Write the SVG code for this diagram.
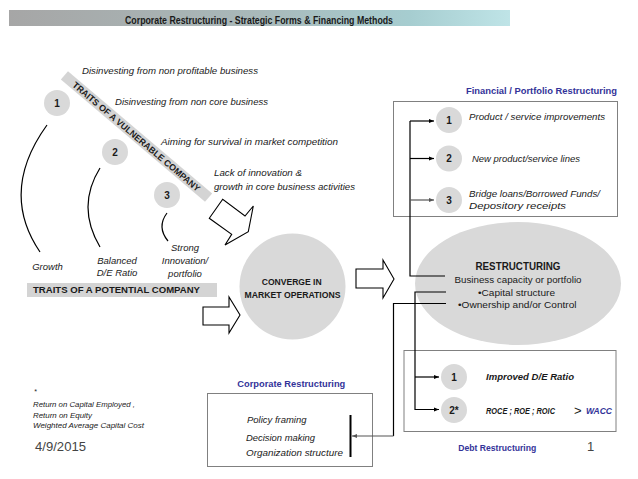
<svg xmlns="http://www.w3.org/2000/svg" width="638" height="479" viewBox="0 0 638 479">
<defs>
<linearGradient id="tg" x1="0" y1="0" x2="1" y2="0">
<stop offset="0" stop-color="#a6a6a6"/>
<stop offset="0.5" stop-color="#a9b9ba"/>
<stop offset="0.8" stop-color="#a6cdd0"/>
<stop offset="1" stop-color="#bfe4e7"/>
</linearGradient>
<marker id="ah" viewBox="0 0 10 10" refX="10" refY="5" markerWidth="5" markerHeight="5" orient="auto" markerUnits="userSpaceOnUse">
<path d="M0,1 L10,5 L0,9 z" fill="#000"/>
</marker>
<marker id="ahg" viewBox="0 0 10 10" refX="10" refY="5" markerWidth="5" markerHeight="5" orient="auto" markerUnits="userSpaceOnUse">
<path d="M0,1 L10,5 L0,9 z" fill="#555"/>
</marker>
</defs>
<style>
text{font-family:"Liberation Sans",Arial,sans-serif;fill:#1a1a1a}
.it{font-style:italic;font-size:9.5px}
.b{font-weight:bold}
.bl{fill:#333399;font-weight:bold;font-size:9.5px}
.num{font-weight:bold;font-size:10px;text-anchor:middle}
.circ{fill:#d9d9d9}
.box{fill:none;stroke:#808080;stroke-width:1}
.ln{fill:none;stroke:#000;stroke-width:1.2}
.hol{fill:#fff;stroke:#000;stroke-width:1.1;stroke-linejoin:miter}
.fn{font-style:italic;font-size:7px}
.mid{text-anchor:middle}
</style>
<rect width="638" height="479" fill="#fff"/>

<g id="title">
<rect x="9" y="10" width="501" height="16" fill="url(#tg)"/>
<text x="125" y="23.5" class="b" font-size="10.5" textLength="268" lengthAdjust="spacingAndGlyphs">Corporate Restructuring  - Strategic Forms &amp; Financing Methods</text>
</g>

<g id="vulnerable-banner" transform="translate(136.5,136.5) rotate(40.3)">
<rect x="-94.5" y="-5.5" width="189" height="11" fill="#d4d4d4"/>
<text x="0" y="3.3" class="b mid" font-size="9" textLength="164" lengthAdjust="spacingAndGlyphs">TRAITS OF A VULNERABLE COMPANY</text>
</g>

<g id="vulnerable-traits">
<text x="82" y="74" class="it" textLength="176" lengthAdjust="spacingAndGlyphs">Disinvesting from non profitable business</text>
<text x="115" y="105" class="it" textLength="153" lengthAdjust="spacingAndGlyphs">Disinvesting from non core business</text>
<text x="161" y="145" class="it" textLength="177" lengthAdjust="spacingAndGlyphs">Aiming for survival in market competition</text>
<text x="214" y="176" class="it" textLength="88" lengthAdjust="spacingAndGlyphs">Lack of innovation &amp;</text>
<text x="214" y="189.5" class="it" textLength="141" lengthAdjust="spacingAndGlyphs">growth in core business activities</text>
</g>

<g id="left-1"><circle cx="57" cy="103" r="13" class="circ"/><text x="57" y="106.5" class="num">1</text></g>
<g id="left-2"><circle cx="115" cy="152" r="13" class="circ"/><text x="115" y="155.5" class="num">2</text></g>
<g id="left-3"><circle cx="167" cy="195" r="13" class="circ"/><text x="167" y="198.5" class="num">3</text></g>

<g id="potential-traits">
<text x="47.5" y="270" class="it mid">Growth</text>
<text x="117" y="263.5" class="it mid">Balanced</text>
<text x="117" y="276" class="it mid">D/E Ratio</text>
<text x="185" y="251" class="it mid">Strong</text>
<text x="185" y="264" class="it mid">Innovation/</text>
<text x="185" y="276.5" class="it mid">portfolio</text>
</g>

<g id="potential-bar">
<rect x="27" y="283" width="190" height="14" fill="#d4d4d4"/>
<text x="116.5" y="293.2" class="b mid" font-size="9" textLength="167" lengthAdjust="spacingAndGlyphs">TRAITS OF A POTENTIAL  COMPANY</text>
</g>

<g id="converge">
<circle cx="292.5" cy="286.5" r="53" fill="#d9d9d9"/>
<text x="291.7" y="284.5" class="b mid" font-size="9" textLength="60" lengthAdjust="spacingAndGlyphs">CONVERGE IN</text>
<text x="292.5" y="297.5" class="b mid" font-size="9" textLength="96" lengthAdjust="spacingAndGlyphs">MARKET OPERATIONS</text>
</g>

<g id="restructuring">
<ellipse cx="518" cy="283.5" rx="103" ry="61.5" fill="#d9d9d9"/>
<text x="518" y="270" class="b mid" font-size="10" textLength="85" lengthAdjust="spacingAndGlyphs">RESTRUCTURING</text>
<text x="518" y="283" class="mid" font-size="9" textLength="127" lengthAdjust="spacingAndGlyphs">Business capacity or portfolio</text>
<text x="516.5" y="295.5" class="mid" font-size="9" textLength="77" lengthAdjust="spacingAndGlyphs">•Capital structure</text>
<text x="517.3" y="307.5" class="mid" font-size="9" textLength="118.5" lengthAdjust="spacingAndGlyphs">•Ownership and/or Control</text>
</g>

<g id="financial-box">
<text x="466" y="94" class="bl" textLength="151" lengthAdjust="spacingAndGlyphs">Financial / Portfolio  Restructuring</text>
<rect x="393.5" y="101.5" width="224" height="115" class="box"/>
</g>
<g id="fin-1"><circle cx="449" cy="120" r="13" class="circ"/><text x="449" y="123.5" class="num">1</text>
<text x="469" y="120" class="it" textLength="136" lengthAdjust="spacingAndGlyphs">Product / service improvements</text></g>
<g id="fin-2"><circle cx="449" cy="158.5" r="13" class="circ"/><text x="449" y="162" class="num">2</text>
<text x="472" y="161.5" class="it" textLength="108" lengthAdjust="spacingAndGlyphs">New product/service  lines</text></g>
<g id="fin-3"><circle cx="449" cy="200" r="13" class="circ"/><text x="449" y="203.5" class="num">3</text>
<text x="469" y="197" class="it" textLength="131" lengthAdjust="spacingAndGlyphs">Bridge loans/Borrowed Funds/</text>
<text x="469" y="209" class="it" font-size="9" textLength="97" lengthAdjust="spacingAndGlyphs">Depository receipts</text></g>

<g id="debt-box">
<rect x="404" y="350.5" width="212" height="81" class="box"/>
<text x="458.3" y="450.5" class="bl" textLength="78" lengthAdjust="spacingAndGlyphs">Debt Restructuring</text>
</g>
<g id="debt-1"><circle cx="454" cy="377" r="13" class="circ"/><text x="454" y="380.5" class="num">1</text>
<text x="486" y="380" class="it b" textLength="88" lengthAdjust="spacingAndGlyphs">Improved  D/E Ratio</text></g>
<g id="debt-2"><circle cx="454" cy="410" r="13" class="circ"/><text x="454" y="413.5" class="num">2*</text>
<text x="486" y="413.5" class="it b" font-size="7.5" textLength="69" lengthAdjust="spacingAndGlyphs">ROCE ; ROE ; ROIC</text>
<text x="574" y="414.5" font-size="13">&gt;</text>
<text x="586" y="413.5" class="it b" style="fill:#333399" font-size="8" textLength="26" lengthAdjust="spacingAndGlyphs">WACC</text></g>

<g id="corporate-box">
<text x="237.3" y="387" class="bl" textLength="108" lengthAdjust="spacingAndGlyphs">Corporate  Restructuring</text>
<rect x="207.5" y="393.5" width="165" height="73" class="box"/>
<text x="247" y="423" class="it" textLength="59.5" lengthAdjust="spacingAndGlyphs">Policy framing</text>
<text x="246" y="440.5" class="it" textLength="69" lengthAdjust="spacingAndGlyphs">Decision making</text>
<text x="246" y="456" class="it" textLength="97" lengthAdjust="spacingAndGlyphs">Organization structure</text>
<line x1="350.5" y1="415" x2="350.5" y2="457" stroke="#000" stroke-width="2"/>
</g>

<g id="connectors">
<path d="M209.3,218.3 L222.7,199.3 L245,216 L253.3,206 L248.3,231.7 L225,245 L231.7,234.3 Z" class="hol"/>
<path d="M203,307 L229,307 L229,297 L240,315 L229,333 L229,325 L203,325 Z" class="hol"/>
<path d="M356,269 L383,269 L383,260 L394,279 L383,298 L383,288 L356,288 Z" class="hol"/>
<path d="M47,125 Q-1,191.5 40,252" class="ln"/>
<path d="M100,168 Q76,206.5 100,247" class="ln"/>
<path d="M167,213 Q156.5,227 168,241" class="ln"/>
<path d="M445,276 L410,276 L410,121" class="ln"/>
<line x1="410" y1="121" x2="434" y2="121" class="ln" marker-end="url(#ah)"/>
<line x1="410" y1="158.5" x2="434" y2="158.5" class="ln" marker-end="url(#ah)"/>
<line x1="410" y1="200" x2="434" y2="200" stroke="#555" stroke-width="1.2" marker-end="url(#ahg)"/>
<path d="M446,292 L415,292 L415,409.5 L439,409.5" class="ln" marker-end="url(#ah)"/>
<line x1="415" y1="377" x2="439" y2="377" class="ln" marker-end="url(#ah)"/>
<path d="M446,303.5 L393.5,303.5 L393.5,436" class="ln"/>
<line x1="393.5" y1="436" x2="352" y2="436" stroke="#555" stroke-width="1.2" marker-end="url(#ahg)"/>
</g>

<g id="footnote">
<text x="34" y="394" class="fn">*</text>
<text x="33" y="406.5" class="fn" textLength="102" lengthAdjust="spacingAndGlyphs">Return on Capital Employed ,</text>
<text x="33" y="418" class="fn" textLength="59" lengthAdjust="spacingAndGlyphs">Return on Equity</text>
<text x="33" y="428" class="fn" textLength="111" lengthAdjust="spacingAndGlyphs">Weighted Average Capital Cost</text>
</g>

<g id="slide-footer">
<text x="35" y="451" font-size="13" style="fill:#444" textLength="51" lengthAdjust="spacingAndGlyphs">4/9/2015</text>
<text x="587" y="451" font-size="13" style="fill:#444">1</text>
</g>
</svg>
